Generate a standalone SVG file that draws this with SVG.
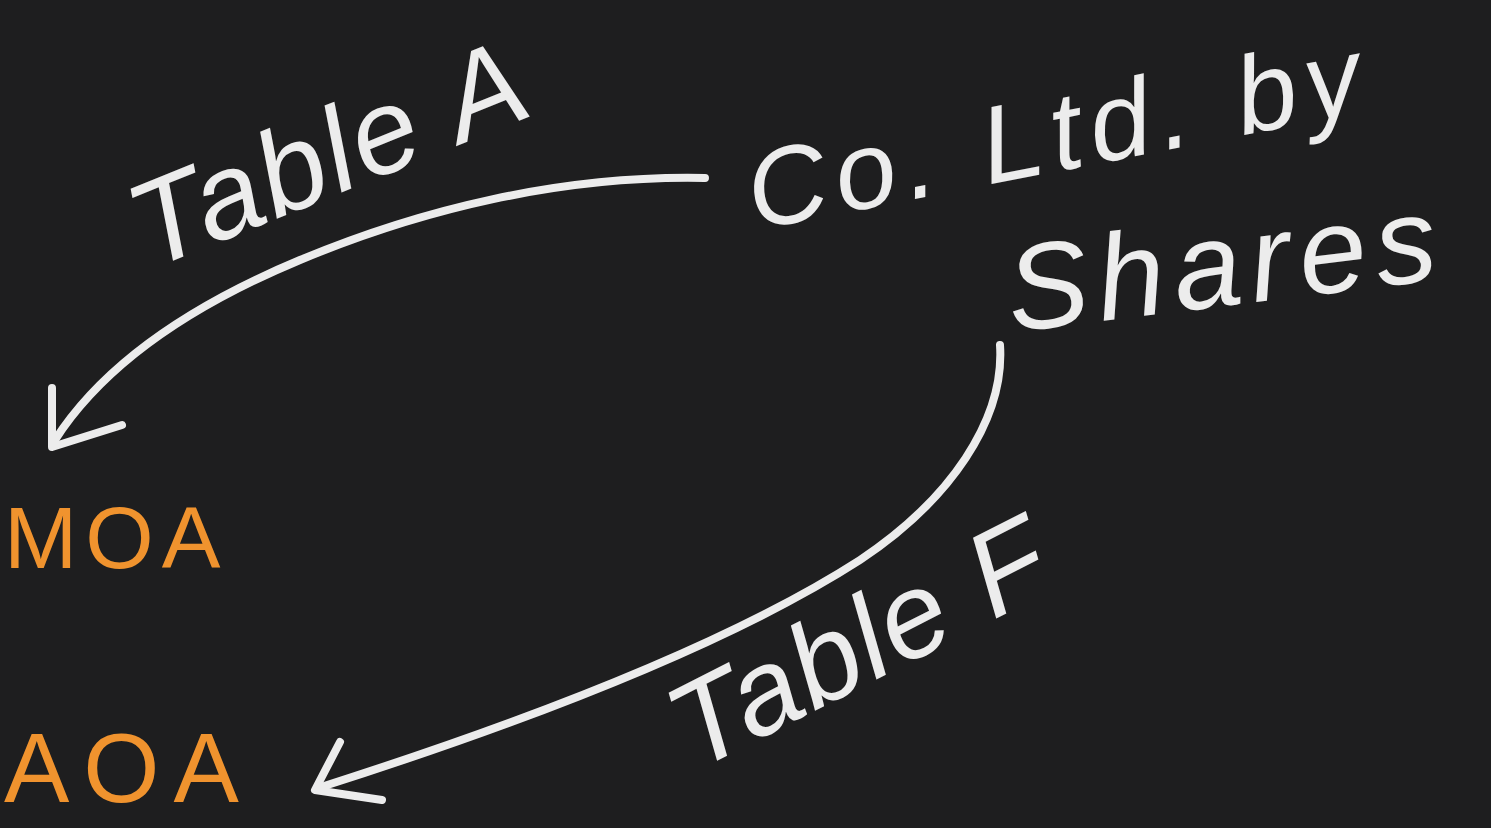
<svg xmlns="http://www.w3.org/2000/svg" width="1491" height="828" viewBox="0 0 1491 828">
<style>
.w{fill:#ececec;font-family:"Liberation Sans",Arial,sans-serif;font-style:italic}
.o{fill:#f0932e;font-family:"Liberation Sans",Arial,sans-serif}
.c{fill:none;stroke:#ececec;stroke-width:8;stroke-linecap:round;stroke-linejoin:round}
</style>
<rect width="1491" height="828" fill="#1e1e1f"/>
<g id="tableA"><text class="w" font-size="120" letter-spacing="3" transform="translate(150,270) rotate(-22)">Table A</text></g>
<g id="coltd"><text class="w" font-size="110" letter-spacing="9" transform="translate(755,230) rotate(-11)">Co. Ltd. by</text></g>
<g id="shares"><text class="w" font-size="122" letter-spacing="9" transform="translate(1012,332) rotate(-7)">Shares</text></g>
<g id="tableF"><text class="w" font-size="120" letter-spacing="2" transform="translate(695,772) rotate(-27)">Table F</text></g>
<g id="moa"><text class="o" font-size="88" x="4" y="568" letter-spacing="8">MOA</text></g>
<g id="aoa"><text class="o" font-size="98" x="4" y="802" letter-spacing="14">AOA</text></g>
<g id="connectors">
<path class="c" d="M705,178 C560,175 420,210 300,260 C180,310 100,370 55,440"/>
<path class="c" d="M52,388 L52,447 L122,425"/>
<path class="c" d="M1000,345 C1005,420 950,500 860,560 C720,650 500,730 318,788"/>
<path class="c" d="M340,742 L315,790 L382,800"/>
</g>
</svg>
